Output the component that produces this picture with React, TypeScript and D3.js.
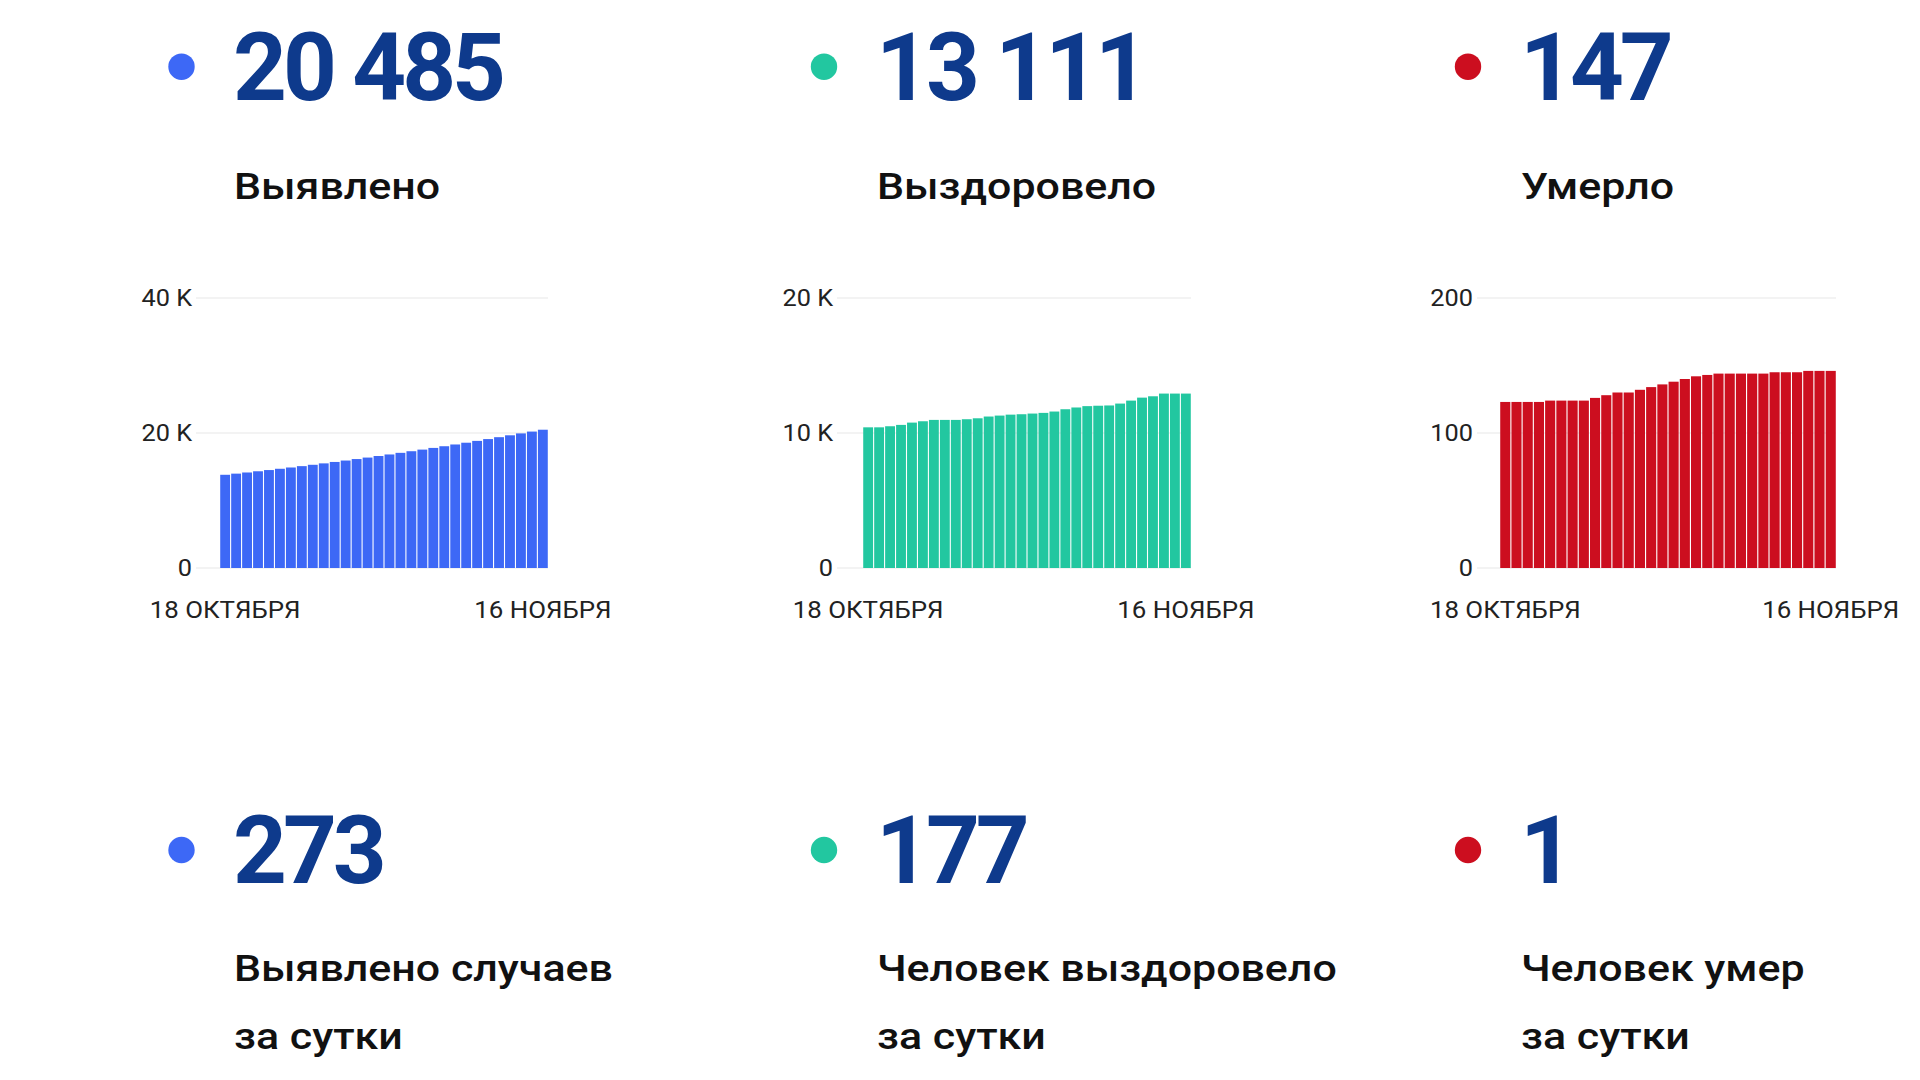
import React from "react";
import * as d3 from "d3";

const DATES = [
  "18.10", "19.10", "20.10", "21.10", "22.10", "23.10", "24.10", "25.10", "26.10", "27.10",
  "28.10", "29.10", "30.10", "31.10", "01.11", "02.11", "03.11", "04.11", "05.11", "06.11",
  "07.11", "08.11", "09.11", "10.11", "11.11", "12.11", "13.11", "14.11", "15.11", "16.11",
];
const X_LABELS = ["18 ОКТЯБРЯ", "16 НОЯБРЯ"];

const CASES = [
  13810, 13980, 14150, 14330, 14510, 14700, 14890, 15090, 15290, 15500,
  15710, 15920, 16140, 16360, 16590, 16820, 17060, 17300, 17540, 17790,
  18040, 18300, 18560, 18830, 19100, 19380, 19660, 19940, 20212, 20485,
];
const RECOVERED = [
  10420, 10420, 10500, 10600, 10770, 10870, 10970, 10970, 10970, 11020,
  11090, 11220, 11290, 11360, 11390, 11440, 11490, 11590, 11760, 11890,
  11990, 12020, 12040, 12180, 12400, 12620, 12720, 12920, 12920, 12920,
];
const DEATHS = [
  123, 123, 123, 123, 124, 124, 124, 124, 126, 128,
  130, 130, 132, 134, 136, 138, 140, 142, 143, 144,
  144, 144, 144, 144, 145, 145, 145, 146, 146, 146,
];

const CASES_TICKS = [0, 20000, 40000];
const CASES_TICK_LABELS = ["0", "20 K", "40 K"];
const RECOVERED_TICKS = [0, 10000, 20000];
const RECOVERED_TICK_LABELS = ["0", "10 K", "20 K"];
const DEATHS_TICKS = [0, 100, 200];
const DEATHS_TICK_LABELS = ["0", "100", "200"];

const TOTALS = ["20 485", "13 111", "147"];
const TOTAL_LABELS = ["Выявлено", "Выздоровело", "Умерло"];
const DAILY = ["273", "177", "1"];
const DAILY_LABELS = [
  ["Выявлено случаев", "за сутки"],
  ["Человек выздоровело", "за сутки"],
  ["Человек умер", "за сутки"],
];

const COLORS = ["#3d68f6", "#22c7a0", "#cc0e1f"];
const NAVY = "#0e3a8c";
const FONT = "Roboto, 'Noto Sans', sans-serif";

const Y_BOTTOM = 568;
const Y_TOP = 298;
const LABEL_SX = 1.145;
const TICK_SX = 1.1;

type ChartSpec = {
  values: number[];
  ticks: number[];
  tickLabels: string[];
  color: string;
  gridStart: number;
  barStart: number;
  barEnd: number;
};

const CHARTS: ChartSpec[] = [
  { values: CASES, ticks: CASES_TICKS, tickLabels: CASES_TICK_LABELS, color: COLORS[0], gridStart: 196, barStart: 220, barEnd: 548 },
  { values: RECOVERED, ticks: RECOVERED_TICKS, tickLabels: RECOVERED_TICK_LABELS, color: COLORS[1], gridStart: 837, barStart: 863, barEnd: 1191 },
  { values: DEATHS, ticks: DEATHS_TICKS, tickLabels: DEATHS_TICK_LABELS, color: COLORS[2], gridStart: 1477, barStart: 1500, barEnd: 1836 },
];

function BarChart({ spec }: { spec: ChartSpec }) {
  const y = d3
    .scaleLinear()
    .domain([0, spec.ticks[spec.ticks.length - 1]])
    .range([Y_BOTTOM, Y_TOP]);
  const x = d3
    .scaleBand<string>()
    .domain(DATES)
    .range([spec.barStart, spec.barEnd])
    .paddingInner(0.1)
    .paddingOuter(0.02);
  const first = DATES[0];
  const last = DATES[DATES.length - 1];
  const xl = [
    (x(first) as number) + x.bandwidth() / 2,
    (x(last) as number) + x.bandwidth() / 2,
  ];
  return (
    <g>
      {spec.ticks.map((t, i) => (
        <g key={t}>
          <line
            x1={spec.gridStart}
            x2={spec.barEnd}
            y1={y(t)}
            y2={y(t)}
            stroke="#e8e8e8"
            strokeWidth={1.2}
          />
          <text
            transform={`translate(${spec.gridStart - 4},${y(t)}) scale(${TICK_SX},1)`}
            dy="0.35em"
            textAnchor="end"
            fontFamily={FONT}
            fontSize={23}
            fill="#222"
          >
            {spec.tickLabels[i]}
          </text>
        </g>
      ))}
      {DATES.map((d, i) => (
        <rect
          key={d}
          x={x(d)}
          width={x.bandwidth()}
          y={y(spec.values[i])}
          height={Y_BOTTOM - y(spec.values[i])}
          fill={spec.color}
        />
      ))}
      {X_LABELS.map((lab, i) => (
        <text
          key={lab}
          transform={`translate(${xl[i]},618) scale(${TICK_SX},1)`}
          textAnchor="middle"
          fontFamily={FONT}
          fontSize={23.5}
          fill="#222"
        >
          {lab}
        </text>
      ))}
    </g>
  );
}

const COL_X = [233, 876, 1520];
const DOT_X = [181.5, 824, 1468];

function Label({ x, y, text }: { x: number; y: number; text: string }) {
  return (
    <text
      transform={`translate(${x},${y}) scale(${LABEL_SX},1)`}
      fontFamily={FONT}
      fontWeight={500}
      fontSize={37.5}
      fill="#111"
    >
      {text}
    </text>
  );
}

export default function App() {
  return (
    <svg
      width={1920}
      height={1080}
      style={{ position: "absolute", left: 0, top: 0, background: "#fff" }}
    >
      <rect width={1920} height={1080} fill="#fff" />
      {TOTALS.map((t, i) => (
        <g key={"top" + i}>
          <circle cx={DOT_X[i]} cy={66.7} r={13.2} fill={COLORS[i]} />
          <text
            x={COL_X[i]}
            y={100}
            fontFamily={FONT}
            fontWeight={700}
            fontSize={94}
            letterSpacing={-4}
            fill={NAVY}
          >
            {t}
          </text>
          <Label x={COL_X[i] + 1} y={198.5} text={TOTAL_LABELS[i]} />
        </g>
      ))}
      {CHARTS.map((c, i) => (
        <BarChart key={"c" + i} spec={c} />
      ))}
      {DAILY.map((t, i) => (
        <g key={"bot" + i}>
          <circle cx={DOT_X[i]} cy={850} r={13.2} fill={COLORS[i]} />
          <text
            x={COL_X[i]}
            y={883}
            fontFamily={FONT}
            fontWeight={700}
            fontSize={94}
            letterSpacing={-4}
            fill={NAVY}
          >
            {t}
          </text>
          {DAILY_LABELS[i].map((line, j) => (
            <Label key={j} x={COL_X[i] + 1} y={981 + j * 67.5} text={line} />
          ))}
        </g>
      ))}
    </svg>
  );
}
